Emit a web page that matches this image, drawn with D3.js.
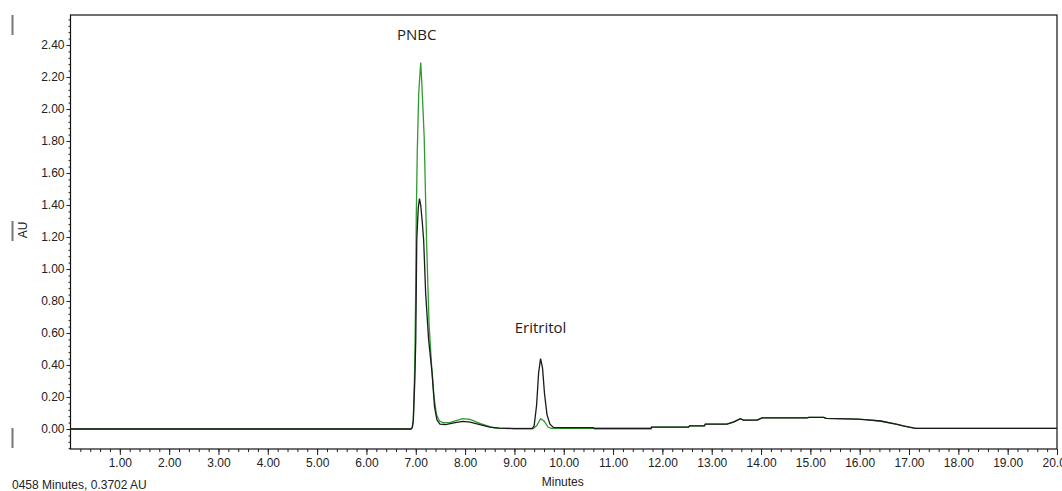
<!DOCTYPE html>
<html>
  <head>
    <meta charset="utf-8">
    <title>Chromatogram</title>
    <script src="https://d3js.org/d3.v7.min.js"></script>
    <style>
      body { margin: 0; background: #fff; }
      svg { display: block; font-family: "Liberation Sans", Arial, sans-serif; }
      .tick text { font-size: 12px; fill: #222; }
      .peak-label { font-family: "Open Sans", sans-serif; font-size: 15px; fill: #222; }
    </style>
  </head>
  <body>
    <div id="chart"></div>
    <script>
      // [minutes, AU]
      var blackTrace = [
        [0, 0], [6.90, 0], [6.93, 0.01], [6.95, 0.056], [6.98, 0.3], [7.00, 0.56],
        [7.02, 1.18], [7.05, 1.38], [7.075, 1.44], [7.10, 1.40], [7.13, 1.30],
        [7.16, 1.18], [7.20, 0.85], [7.26, 0.56], [7.33, 0.35], [7.38, 0.14],
        [7.43, 0.056], [7.49, 0.03], [7.60, 0.028], [7.80, 0.04], [7.95, 0.048],
        [8.10, 0.043], [8.30, 0.027], [8.50, 0.012], [8.70, 0.006], [8.98, 0.002],
        [9.36, 0.002], [9.40, 0.02], [9.45, 0.15], [9.49, 0.35], [9.53, 0.44],
        [9.57, 0.38], [9.61, 0.22], [9.66, 0.09], [9.72, 0.03], [9.79, 0.01],
        [10.0, 0.008], [10.6, 0.008]
      ];

      var greenTrace = [
        [0, 0], [6.90, 0], [6.93, 0.01], [6.95, 0.05], [6.98, 0.4], [7.00, 0.9],
        [7.01, 1.33], [7.03, 1.73], [7.06, 2.10], [7.10, 2.29], [7.12, 2.18],
        [7.14, 2.04], [7.17, 1.83], [7.22, 1.16], [7.27, 0.65], [7.32, 0.40],
        [7.37, 0.20], [7.42, 0.09], [7.48, 0.05], [7.55, 0.04], [7.70, 0.042],
        [7.85, 0.055], [7.95, 0.065], [8.10, 0.06], [8.30, 0.035], [8.50, 0.015],
        [8.61, 0.006], [9.00, 0.003], [9.38, 0.003], [9.45, 0.02], [9.53, 0.065],
        [9.60, 0.05], [9.68, 0.012], [9.75, 0.004], [10.6, 0.004]
      ];

      // shared tail of both traces (they overlap here)
      var tailTrace = [
        [10.62, 0.003], [11.77, 0.003], [11.78, 0.012], [12.53, 0.012], [12.55, 0.02],
        [12.85, 0.02], [12.87, 0.03], [13.31, 0.03], [13.45, 0.045], [13.58, 0.064],
        [13.64, 0.056], [13.92, 0.056], [14.02, 0.07], [14.93, 0.07], [14.97, 0.073],
        [15.27, 0.073], [15.32, 0.066], [15.95, 0.062], [16.10, 0.058], [16.42, 0.05],
        [16.76, 0.029], [16.88, 0.019], [17.13, 0.004], [20, 0.004]
      ];

      var peakLabels = [
        {name: "PNBC", t: 7.02, au: 2.43},
        {name: "Eritritol", t: 9.53, au: 0.60}
      ];

      var xTicks = d3.range(1, 21);
      var yTicks = d3.range(0, 2.41, 0.2);
      var statusText = "0458 Minutes, 0.3702 AU";

      var W = 1062, H = 491;
      var margin = {top: 15, right: 5, bottom: 42, left: 70.5};
      var width = W - margin.left - margin.right,
          height = H - margin.top - margin.bottom;

      var svg = d3.select("#chart")
        .append("svg")
          .attr("width", W)
          .attr("height", H);

      var g = svg.append("g")
        .attr("transform", "translate(" + margin.left + "," + margin.top + ")");

      var x = d3.scaleLinear().domain([0, 20]).range([0, width]);
      var y = d3.scaleLinear().domain([-0.125, 2.5875]).range([height, 0]);

      g.append("clipPath").attr("id", "clip")
        .append("rect").attr("width", width).attr("height", height);

      // minor ticks
      g.append("g")
        .attr("transform", "translate(0," + height + ")")
        .call(d3.axisBottom(x).tickValues(d3.range(0.2, 20, 0.2)).tickSize(3).tickFormat(""))
        .call(function(a) { a.select(".domain").remove(); });
      g.append("g")
        .call(d3.axisLeft(y).tickValues(d3.range(-0.12, 2.59, 0.04)).tickSize(2).tickFormat(""))
        .call(function(a) { a.select(".domain").remove(); });

      // major ticks
      g.append("g")
        .attr("transform", "translate(0," + height + ")")
        .call(d3.axisBottom(x).tickValues(xTicks).tickSize(6).tickPadding(3).tickFormat(d3.format(".2f")))
        .call(function(a) { a.select(".domain").remove(); });
      g.append("g")
        .call(d3.axisLeft(y).tickValues(yTicks).tickSize(4).tickPadding(2).tickFormat(d3.format(".2f")))
        .call(function(a) { a.select(".domain").remove(); });

      g.selectAll(".tick line").attr("stroke", "#222");

      // frame
      g.append("rect")
        .attr("width", width).attr("height", height)
        .attr("fill", "none").attr("stroke", "#111").attr("stroke-width", 1.2);

      var line = d3.line()
        .x(function(d) { return x(d[0]); })
        .y(function(d) { return y(d[1]); });

      var plot = g.append("g").attr("clip-path", "url(#clip)");

      plot.append("path")
        .datum(greenTrace.concat(tailTrace))
        .attr("d", line)
        .attr("fill", "none")
        .attr("stroke", "#2f9a2f")
        .attr("stroke-width", 1.3);

      plot.append("path")
        .datum(blackTrace.concat(tailTrace))
        .attr("d", line)
        .attr("fill", "none")
        .attr("stroke", "#1a1a1a")
        .attr("stroke-width", 1.3);

      g.selectAll(".peak-label")
        .data(peakLabels)
        .enter().append("text")
          .attr("class", "peak-label")
          .attr("x", function(d) { return x(d.t); })
          .attr("y", function(d) { return y(d.au); })
          .attr("text-anchor", "middle")
          .text(function(d) { return d.name; });

      // axis titles
      g.append("text")
        .attr("x", width / 2 - 1)
        .attr("y", height + 37)
        .attr("text-anchor", "middle")
        .attr("font-size", 12)
        .attr("fill", "#222")
        .text("Minutes");

      svg.append("text")
        .attr("transform", "translate(27,230) rotate(-90)")
        .attr("text-anchor", "middle")
        .attr("font-size", 12)
        .attr("fill", "#222")
        .text("AU");

      svg.append("text")
        .attr("x", 12)
        .attr("y", 489)
        .attr("font-size", 12)
        .attr("fill", "#222")
        .text(statusText);

      // small grey markers on the left edge
      svg.selectAll(".marker")
        .data([[15, 35], [221, 241], [428, 448]])
        .enter().append("rect")
          .attr("class", "marker")
          .attr("x", 11.5)
          .attr("y", function(d) { return d[0]; })
          .attr("width", 2)
          .attr("height", function(d) { return d[1] - d[0]; })
          .attr("fill", "#777");
    </script>
  </body>
</html>
